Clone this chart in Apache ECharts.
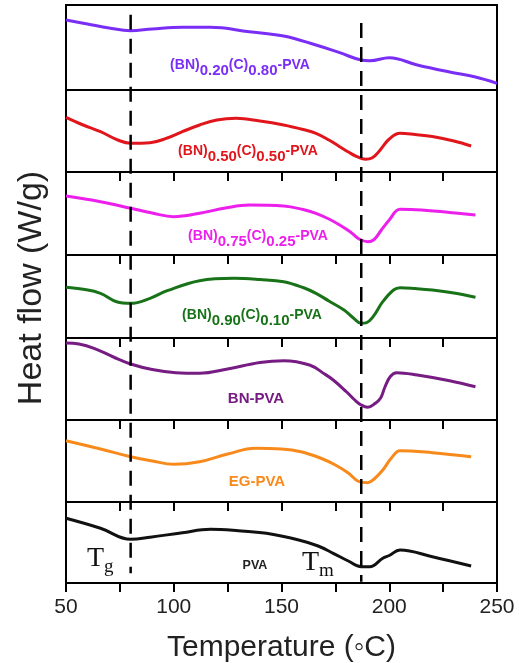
<!DOCTYPE html>
<html>
<head>
<meta charset="utf-8">
<script src="https://cdn.jsdelivr.net/npm/echarts@6/dist/echarts.min.js"></script>
<style>
  html, body { margin: 0; padding: 0; background: #fff; }
  #chart { width: 519px; height: 663px; }
</style>
</head>
<body>
<div id="chart"></div>
<script>
// DSC heat-flow curves (arbitrary offset units within each panel), temperature in °C
const tempBN20 = [50, 60, 70, 80, 90, 104, 117, 135, 151, 166, 177, 187, 191, 200, 213, 228, 240, 250];
const flowBN20 = [70, 66, 62, 59.3, 61, 62.7, 62.7, 58.3, 54, 45, 37.3, 30, 29.3, 32.3, 25, 18, 13, 6.7];

const tempBN50 = [50, 58, 66, 74, 80, 89, 97, 104, 112, 120, 129, 140, 151, 160, 166, 172, 177, 181, 185, 189, 192, 195, 200, 205, 212, 220, 230, 238];
const flowBN50 = [54.7, 47, 40.3, 32, 28.7, 29.3, 34, 40.3, 47, 52, 53.7, 51, 47, 42.5, 38.7, 32, 25.3, 20, 15.3, 12.7, 14, 20, 33, 38.7, 37.5, 35.5, 31, 26];

const tempBN75 = [50, 66, 80, 90, 100, 112, 124, 135, 151, 160, 166, 172, 177, 182, 186, 190, 193, 196, 200, 205, 215, 228, 240];
const flowBN75 = [59, 53.3, 46.7, 42, 38.3, 41.7, 47, 50, 49, 45.5, 41.7, 36, 30, 23, 16, 13.3, 15.5, 24, 35, 45.7, 45, 42.5, 40];

const tempBN90 = [50, 58, 66, 73.5, 80, 89, 97, 112, 128, 140, 151, 160, 166, 172, 179, 183.5, 187, 189.5, 192.5, 197, 202, 205, 212, 220, 230, 240];
const flowBN90 = [50.7, 48.7, 44.7, 36.3, 34.7, 39.7, 47.3, 57.3, 59.7, 58.5, 56.3, 50.5, 44.7, 37, 28, 19.7, 14.7, 15.3, 21.3, 36.3, 48, 50.3, 49.5, 48, 45, 40.7];

const tempBN = [50, 56, 63, 72, 80, 90, 101, 112, 125, 140, 151, 163, 170, 174, 180, 184, 187, 190, 193.5, 196, 198, 200.5, 203.5, 213, 228, 240];
const flowBN = [77, 76, 71.7, 63, 56, 50.5, 47.3, 46.7, 51, 57.5, 59.3, 55, 46, 40, 28.5, 20, 15, 12.7, 16.7, 22, 33, 43.5, 47.3, 45, 39.3, 33.3];

const tempEG = [50, 66, 80, 90, 100, 112, 125, 138, 150, 159, 168, 175, 181, 186, 190, 193, 197, 201, 205, 220, 238];
const flowEG = [61.3, 53, 45.3, 41, 37.7, 40.3, 48, 53.7, 53, 50.3, 44, 37, 29, 20.3, 19.3, 23, 32, 44, 51.3, 49.3, 45.3];

const tempPVA = [50, 66, 80, 89, 104, 117, 130, 143, 158, 167, 174, 181, 187, 191, 197, 200, 205, 220, 238];
const flowPVA = [64.7, 54.7, 43.7, 45.7, 50.3, 53.7, 52.3, 49.7, 43, 37, 29.7, 22, 16.3, 16.3, 24.7, 27.5, 33, 26.3, 17];

// Transition temperatures marked with dashed guides
const tg = 80;
const tm = 187;

const xTicks = [50, 100, 150, 200, 250];

const samples = [
  { t: tempBN20, f: flowBN20, color: '#7a2ef5' },
  { t: tempBN50, f: flowBN50, color: '#e0161c' },
  { t: tempBN75, f: flowBN75, color: '#ec1fec' },
  { t: tempBN90, f: flowBN90, color: '#187318' },
  { t: tempBN,   f: flowBN,   color: '#761c82' },
  { t: tempEG,   f: flowEG,   color: '#f88a1c' },
  { t: tempPVA,  f: flowPVA,  color: '#111111' }
];

// panel edges (px)
const edges = [5, 90, 172, 255, 338, 420, 502, 583];
const LEFT = 66, RIGHT = 22;

const grids = [], xAxes = [], yAxes = [], series = [];
samples.forEach((s, i) => {
  const h = edges[i + 1] - edges[i];
  const last = i === samples.length - 1;
  grids.push({ left: LEFT, right: RIGHT, top: edges[i], height: h, outerBoundsMode: 'none',
    show: true, borderColor: '#000', borderWidth: 2, backgroundColor: 'transparent' });
  xAxes.push({
    gridIndex: i, type: 'value', min: 50, max: 250, interval: 25,
    axisLine: { show: false },
    axisTick: { show: i > 0, inside: false, length: 9, lineStyle: { color: '#000', width: 2 } },
    splitLine: { show: false },
    axisLabel: {
      show: last, margin: 14, fontSize: 21, color: '#222', fontFamily: 'Liberation Sans',
      formatter: v => (xTicks.indexOf(v) >= 0 ? String(v) : '')
    },
    name: last ? 'Temperature (\u25E6C)' : '',
    nameLocation: 'middle', nameGap: 50,
    nameTextStyle: { fontSize: 30, color: '#222', fontFamily: 'Liberation Sans' }
  });
  yAxes.push({ gridIndex: i, type: 'value', min: 0, max: h, show: false });
  series.push({
    type: 'line', xAxisIndex: i, yAxisIndex: i, smooth: 0.4, symbol: 'none',
    lineStyle: { color: s.color, width: 3 },
    data: s.t.map((t, k) => [t, s.f[k]]),
    silent: true, z: 3
  });
});

// overlay grid spanning all panels for the dashed Tg / Tm guides
const ov = samples.length;
grids.push({ left: LEFT, right: RIGHT, top: edges[0], height: edges[7] - edges[0], outerBoundsMode: 'none' });
xAxes.push({ gridIndex: ov, type: 'value', min: 50, max: 250, show: false });
yAxes.push({ gridIndex: ov, type: 'value', min: 0, max: 1, show: false });
const dashStyle = { color: '#000', width: 2.5, type: [15, 9] };
series.push({ type: 'line', xAxisIndex: ov, yAxisIndex: ov, symbol: 'none', silent: true, z: 4,
  lineStyle: dashStyle, data: [[tg, 0.983], [tg, 0.017]] });
series.push({ type: 'line', xAxisIndex: ov, yAxisIndex: ov, symbol: 'none', silent: true, z: 4,
  lineStyle: dashStyle, data: [[tm, 0.969], [tm, 0.002]] });

// sample labels with subscripted fractions
const labRich = (color) => ({
  b: { fontSize: 14, fontWeight: 'bold', fill: color, fontFamily: 'Liberation Sans', lineHeight: 14, verticalAlign: 'top' },
  s: { fontSize: 15, fontWeight: 'bold', fill: color, fontFamily: 'Liberation Sans', lineHeight: 20, verticalAlign: 'bottom' }
});
const comp = (a, b) => `{b|(BN)}{s|${a}}{b|(C)}{s|${b}}{b|-PVA}`;
const labels = [
  { text: comp('0.20', '0.80'), x: 240, y: 68, color: samples[0].color },
  { text: comp('0.50', '0.50'), x: 248, y: 154, color: samples[1].color },
  { text: comp('0.75', '0.25'), x: 258, y: 239, color: samples[2].color },
  { text: comp('0.90', '0.10'), x: 252, y: 318, color: samples[3].color }
];
const graphics = labels.map(l => ({
  type: 'text', x: l.x, y: l.y, z: 10,
  style: { text: l.text, rich: labRich(l.color), align: 'center', verticalAlign: 'middle' }
}));
const plain = [
  { text: 'BN-PVA', x: 256, y: 399, color: samples[4].color, size: 15 },
  { text: 'EG-PVA', x: 257, y: 482, color: samples[5].color, size: 15 },
  { text: 'PVA', x: 255, y: 566, color: '#222', size: 12.5 }
];
plain.forEach(p => graphics.push({
  type: 'text', x: p.x, y: p.y, z: 10,
  style: { text: p.text, fill: p.color, font: `bold ${p.size}px "Liberation Sans"`, align: 'center', verticalAlign: 'middle' }
}));
const serifRich = {
  t: { fontSize: 28, fontFamily: 'Liberation Serif', fill: '#111', lineHeight: 26, verticalAlign: 'top' },
  u: { fontSize: 19, fontFamily: 'Liberation Serif', fill: '#111', lineHeight: 32, verticalAlign: 'bottom' }
};
graphics.push({ type: 'text', x: 87, y: 545, z: 10, style: { text: '{t|T}{u|g}', rich: serifRich } });
graphics.push({ type: 'text', x: 302, y: 549, z: 10, style: { text: '{t|T}{u|m}', rich: serifRich } });

// y-axis title
graphics.push({ type: 'text', x: 32, y: 288, rotation: Math.PI / 2, z: 10,
  style: { text: 'Heat flow (W/g)', fill: '#222', font: '34px "Liberation Sans"', align: 'center', verticalAlign: 'middle' } });

const chart = echarts.init(document.getElementById('chart'), null, { renderer: 'canvas' });
chart.setOption({
  animation: false,
  backgroundColor: '#fff',
  grid: grids, xAxis: xAxes, yAxis: yAxes, series, graphic: graphics
});
</script>
</body>
</html>
